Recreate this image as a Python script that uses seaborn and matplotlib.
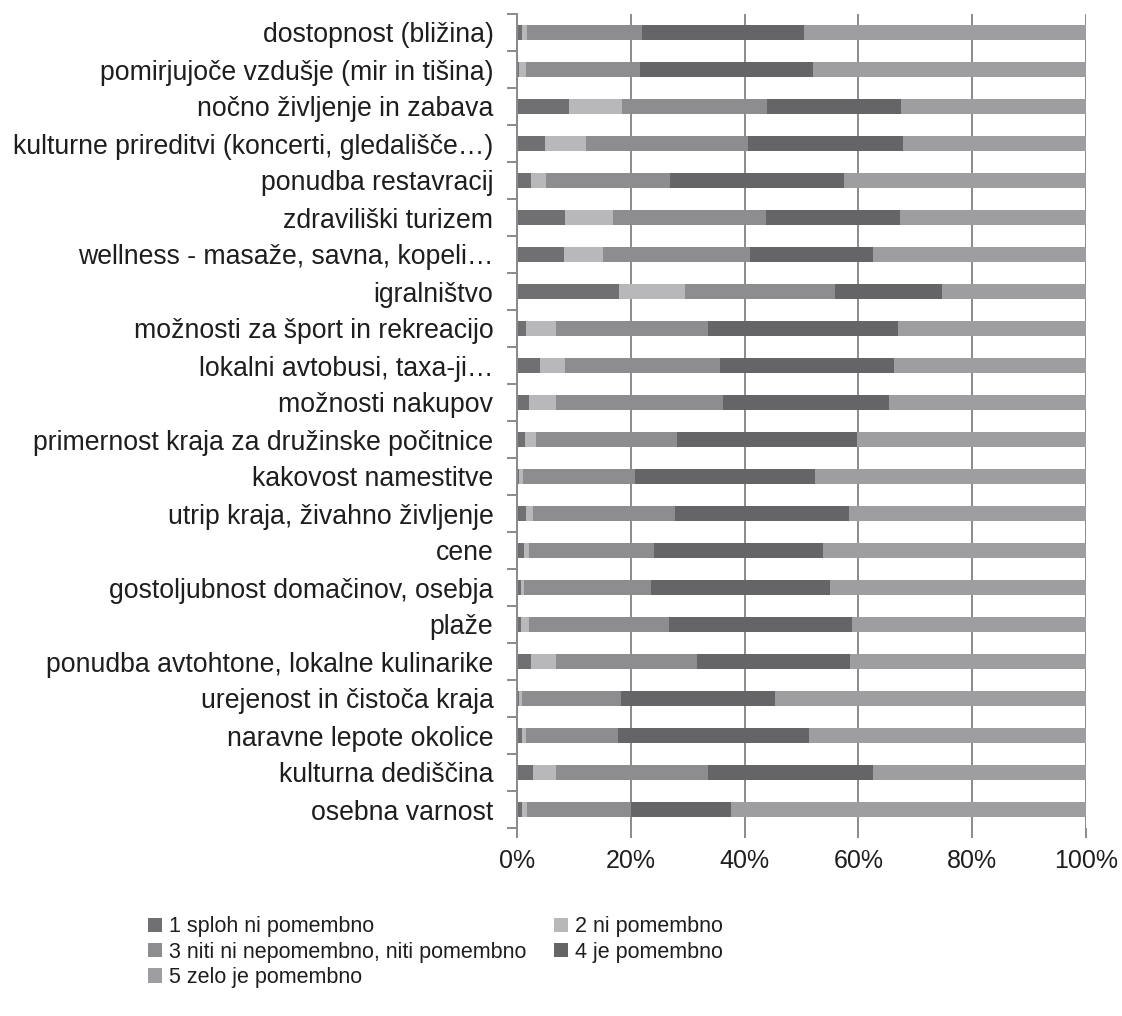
import matplotlib
matplotlib.use("Agg")
import matplotlib.pyplot as plt
import seaborn as sns
import numpy as np
import pandas as pd
from matplotlib.patches import Patch
from matplotlib.ticker import FixedLocator, PercentFormatter

categories = [
    "dostopnost (bližina)",
    "pomirjujoče vzdušje (mir in tišina)",
    "nočno življenje in zabava",
    "kulturne prireditvi (koncerti, gledališče…)",
    "ponudba restavracij",
    "zdraviliški turizem",
    "wellness - masaže, savna, kopeli…",
    "igralništvo",
    "možnosti za šport in rekreacijo",
    "lokalni avtobusi, taxa-ji…",
    "možnosti nakupov",
    "primernost kraja za družinske počitnice",
    "kakovost namestitve",
    "utrip kraja, živahno življenje",
    "cene",
    "gostoljubnost domačinov, osebja",
    "plaže",
    "ponudba avtohtone, lokalne kulinarike",
    "urejenost in čistoča kraja",
    "naravne lepote okolice",
    "kulturna dediščina",
    "osebna varnost",
]

s1_splon_ni = [0.8, 0.3, 9.2, 4.9, 2.5, 8.5, 8.3, 18.0, 1.5, 4.0, 2.1, 1.4, 0.4, 1.5, 1.2, 0.7, 0.7, 2.4, 0.4, 0.8, 2.8, 0.8]
s2_ni = [1.0, 1.2, 9.3, 7.3, 2.6, 8.4, 6.9, 11.6, 5.3, 4.5, 4.8, 2.0, 0.6, 1.3, 0.9, 0.5, 1.4, 4.4, 0.4, 0.7, 4.0, 1.0]
s3_niti = [20.1, 20.1, 25.4, 28.4, 21.8, 26.8, 25.7, 26.3, 26.7, 27.1, 29.3, 24.8, 19.7, 24.9, 21.9, 22.4, 24.6, 24.8, 17.5, 16.2, 26.7, 18.2]
s4_je = [28.5, 30.4, 23.6, 27.2, 30.6, 23.6, 21.6, 18.8, 33.5, 30.6, 29.2, 31.5, 31.6, 30.7, 29.8, 31.4, 32.1, 26.9, 27.0, 33.7, 29.0, 17.6]
s5_zelo = [49.6, 48.0, 32.5, 32.2, 42.5, 32.7, 37.5, 25.3, 33.0, 33.8, 34.6, 40.3, 47.7, 41.6, 46.2, 45.0, 41.2, 41.5, 54.7, 48.6, 37.5, 62.4]

series_labels = [
    "1 sploh ni pomembno",
    "2 ni pomembno",
    "3 niti ni nepomembno, niti pomembno",
    "4 je pomembno",
    "5 zelo je pomembno",
]
colors = ["#707072", "#b8b8ba", "#8d8d8f", "#656567", "#9e9ea0"]

plt.rcParams["font.family"] = ["Liberation Sans", "DejaVu Sans"]

vals = np.array([s1_splon_ni, s2_ni, s3_niti, s4_je, s5_zelo])
tot = vals.sum(axis=0)
pct = vals / tot * 100
cum = np.cumsum(pct, axis=0)

df = pd.DataFrame({"category": categories})
for i in range(5):
    df[f"c{i}"] = cum[i]

fig = plt.figure(figsize=(11.22, 10.16), dpi=100)
ax = fig.add_axes([517 / 1122, (1016 - 828) / 1016, (1086 - 517) / 1122, (828 - 14) / 1016])

gridc = "#8a8a8a"
txtc = "#1e1e1e"
ax.set_axisbelow(True)
ax.grid(axis="x", color=gridc, linewidth=1.4, zorder=0)

for i in range(4, -1, -1):
    sns.barplot(data=df, y="category", x=f"c{i}", orient="h", color=colors[i],
                saturation=1, width=0.42, ax=ax, zorder=2)

ax.set_xlim(0, 100)
ax.set_ylim(len(categories) - 0.5, -0.5)
ax.set_xlabel("")
ax.set_ylabel("")
ax.xaxis.set_major_locator(FixedLocator([0, 20, 40, 60, 80, 100]))
ax.xaxis.set_major_formatter(PercentFormatter(decimals=0))
ax.tick_params(axis="x", length=7, width=1.4, color=gridc, labelsize=18, labelcolor=txtc, pad=8)
ax.tick_params(axis="y", which="major", length=0, labelsize=19.2, labelcolor=txtc, pad=17)
ax.yaxis.set_minor_locator(FixedLocator(np.arange(-0.5, len(categories), 1.0)))
ax.tick_params(axis="y", which="minor", length=7, width=1.4, color=gridc, direction="out")

for s in ["top", "right", "bottom"]:
    ax.spines[s].set_visible(False)
ax.spines["left"].set_color(gridc)
ax.spines["left"].set_linewidth(1.4)

handles = [Patch(facecolor=c, edgecolor="none") for c in colors]
order = [0, 2, 4, 1, 3]
fig.legend([handles[i] for i in order], [series_labels[i] for i in order],
           loc="upper left", bbox_to_anchor=(142 / 1122, 1 - 910 / 1016), ncol=2,
           frameon=False, fontsize=15.5, handlelength=0.65, handleheight=0.65,
           handletextpad=0.3, labelspacing=0.2, columnspacing=1.3, labelcolor=txtc,
           borderaxespad=0, borderpad=0.3)

fig.savefig("out.png", dpi=100)
